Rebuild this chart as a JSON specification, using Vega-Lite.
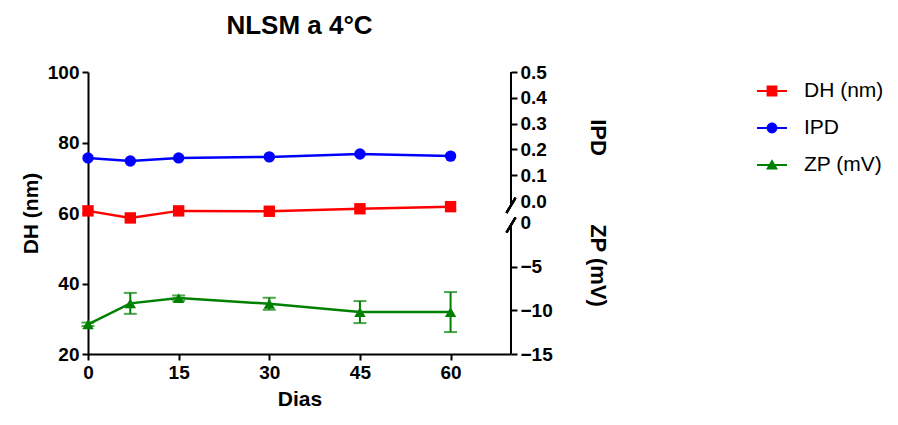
{
  "$schema": "https://vega.github.io/schema/vega-lite/v6.json",
  "width": 423,
  "height": 282,
  "autosize": {"type": "none"},
  "padding": {"left": 88, "top": 72, "right": 387, "bottom": 71},
  "background": "white",
  "title": {"text": "NLSM a 4°C", "font": "Liberation Sans", "fontSize": 26, "fontWeight": "bold", "color": "black", "anchor": "middle", "offset": 24},
  "config": {
    "view": {"stroke": null},
    "axis": {
      "grid": false, "domainColor": "black", "domainWidth": 2, "tickColor": "black", "tickWidth": 2, "tickSize": 6, "labelFlush": false,
      "labelFont": "Liberation Sans", "labelFontWeight": "bold", "labelFontSize": 19, "labelColor": "black", "labelPadding": 3,
      "titleFont": "Liberation Sans", "titleFontWeight": "bold", "titleFontSize": 21, "titleColor": "black"
    },
    "legend": {"labelFont": "Liberation Sans", "labelFontSize": 21, "labelColor": "black"}
  },
  "data": {"values": [
    {"Dias": 0, "DH": 60.6, "IPD": 0.167, "ZP": -11.6, "ZPerr": 0.2},
    {"Dias": 7, "DH": 58.6, "IPD": 0.155, "ZP": -9.2, "ZPerr": 1.2},
    {"Dias": 15, "DH": 60.6, "IPD": 0.167, "ZP": -8.6, "ZPerr": 0.3},
    {"Dias": 30, "DH": 60.5, "IPD": 0.171, "ZP": -9.25, "ZPerr": 0.69},
    {"Dias": 45, "DH": 61.2, "IPD": 0.182, "ZP": -10.2, "ZPerr": 1.26},
    {"Dias": 60, "DH": 61.8, "IPD": 0.174, "ZP": -10.2, "ZPerr": 2.29}
  ]},
  "encoding": {
    "x": {"field": "Dias", "type": "quantitative", "scale": {"domain": [0, 70], "nice": false}, "axis": {"values": [0, 15, 30, 45, 60], "title": "Dias", "titlePadding": 6}}
  },
  "layer": [
    {
      "layer": [
        {"mark": {"type": "line", "strokeWidth": 2.5},
         "encoding": {
           "y": {"field": "DH", "type": "quantitative", "scale": {"domain": [20, 100], "nice": false, "zero": false}, "axis": {"orient": "left", "title": "DH (nm)", "values": [20, 40, 60, 80, 100], "titlePadding": 6}},
           "color": {"datum": "DH (nm)", "scale": {"domain": ["DH (nm)", "IPD", "ZP (mV)"], "range": ["#ff0000", "#0000ff", "#008000"]}, "legend": {
             "title": null, "orient": "none", "legendX": 669, "legendY": 4, "symbolSize": 900, "rowPadding": 12, "labelOffset": 17,
             "encode": {"symbols": {"update": {
               "shape": {"signal": "datum.value === 'DH (nm)' ? 'M-1,-0.07H1V0.07H-1Z M-0.36,-0.36H0.36V0.36H-0.36Z' : datum.value === 'IPD' ? 'M-1,-0.07H1V0.07H-1Z M0.36,0A0.36,0.36 0 1,1 -0.36,0A0.36,0.36 0 1,1 0.36,0Z' : 'M-1,-0.07H1V0.07H-1Z M0,-0.38L0.4,0.3H-0.4Z'"},
               "fill": {"signal": "scale('color', datum.value)"},
               "strokeWidth": {"value": 0}
             }}}
           }}
         }},
        {"mark": {"type": "point", "shape": "square", "filled": true, "size": 130, "opacity": 1},
         "encoding": {
           "y": {"field": "DH", "type": "quantitative"},
           "color": {"datum": "DH (nm)"}
         }}
      ]
    },
    {
      "layer": [
        {"mark": {"type": "rule", "strokeWidth": 2, "color": "black"},
         "encoding": {"x": {"datum": 70, "type": "quantitative"}, "y": {"datum": 0.5, "type": "quantitative"}, "y2": {"datum": -0.017}}},
        {"mark": {"type": "point", "shape": "M-0.6,1L0.6,-1", "filled": false, "size": 225, "strokeWidth": 2, "color": "black", "opacity": 1},
         "encoding": {"x": {"datum": 70, "type": "quantitative"}, "y": {"datum": -0.017, "type": "quantitative"}}},
        {"mark": {"type": "line", "strokeWidth": 2.5},
         "encoding": {
           "y": {"field": "IPD", "type": "quantitative", "scale": {"domain": [-0.593, 0.5], "nice": false, "zero": false},
                 "axis": {"orient": "right", "values": [0, 0.1, 0.2, 0.3, 0.4, 0.5], "format": ".1f", "domain": false, "title": "IPD", "titleAngle": 90, "titleX": 74, "titleY": 65, "titleFontSize": 22,
                          "tickOpacity": {"condition": {"test": "datum.value === 0", "value": 0}, "value": 1}}},
           "color": {"datum": "IPD"}
         }},
        {"mark": {"type": "point", "shape": "circle", "filled": true, "size": 130, "opacity": 1},
         "encoding": {"y": {"field": "IPD", "type": "quantitative"}, "color": {"datum": "IPD"}}}
      ]
    },
    {
      "layer": [
        {"mark": {"type": "rule", "strokeWidth": 2, "color": "black"},
         "encoding": {"x": {"datum": 70, "type": "quantitative"}, "y": {"datum": -15, "type": "quantitative", "title": "ZP (mV)"}, "y2": {"datum": -0.23}}},
        {"mark": {"type": "point", "shape": "M-0.6,1L0.6,-1", "filled": false, "size": 225, "strokeWidth": 2, "color": "black", "opacity": 1},
         "encoding": {"x": {"datum": 70, "type": "quantitative"}, "y": {"datum": -0.23, "type": "quantitative", "title": "ZP (mV)"}}},
        {"mark": {"type": "errorbar", "ticks": {"size": 13, "thickness": 2}, "thickness": 2, "color": "#008000"},
         "encoding": {"y": {"field": "ZP", "type": "quantitative", "title": "ZP (mV)"}, "yError": {"field": "ZPerr"}}},
        {"mark": {"type": "line", "strokeWidth": 2.5},
         "encoding": {
           "y": {"field": "ZP", "type": "quantitative", "title": "ZP (mV)", "scale": {"domain": [-15, 17.29], "nice": false, "zero": false},
                 "axis": {"orient": "right", "values": [-15, -10, -5, 0], "domain": false, "title": "ZP (mV)", "titleAngle": 90, "titleX": 74, "titleY": 193, "titleFontSize": 22,
                          "tickOpacity": {"condition": {"test": "datum.value === 0", "value": 0}, "value": 1}}},
           "color": {"datum": "ZP (mV)"}
         }},
        {"mark": {"type": "point", "shape": "triangle-up", "filled": true, "size": 130, "opacity": 1},
         "encoding": {"y": {"field": "ZP", "type": "quantitative", "title": "ZP (mV)"}, "color": {"datum": "ZP (mV)"}}}
      ]
    }
  ],
  "resolve": {"scale": {"y": "independent"}}
}
